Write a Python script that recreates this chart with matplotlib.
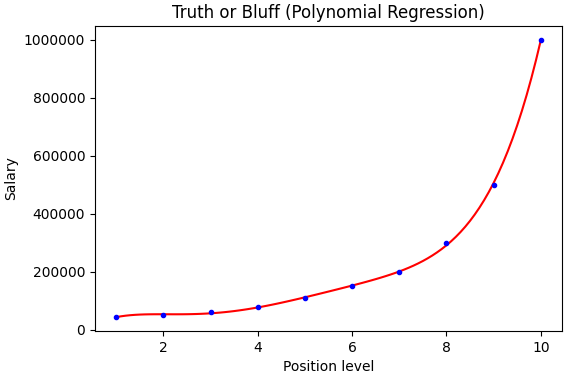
import numpy as np
import matplotlib
matplotlib.use("Agg")
import matplotlib.pyplot as plt

level = np.array([1, 2, 3, 4, 5, 6, 7, 8, 9, 10], dtype=float)
salary = np.array([45000, 50000, 60000, 80000, 110000, 150000, 200000,
                   300000, 500000, 1000000], dtype=float)
degree = 5

# polynomial regression fitted to the data, evaluated on a fine grid
coef = np.polyfit(level, salary, degree)
x_grid = np.arange(level.min(), level.max() + 0.001, 0.1)
y_grid = np.polyval(coef, x_grid)

fig = plt.figure(figsize=(5.76, 3.79), dpi=100)
ax = fig.add_axes([95/576, 1 - 331/379, (562-95)/576, (331-26)/379])
ax.scatter(level, salary, color="blue", s=9, zorder=3)
ax.plot(x_grid, y_grid, color="red", linewidth=1.5)
ax.set_title("Truth or Bluff (Polynomial Regression)")
ax.set_xlabel("Position level")
ax.set_ylabel("Salary")
ax.ticklabel_format(axis="y", style="plain", useOffset=False)
fig.savefig("out.png", dpi=100)
